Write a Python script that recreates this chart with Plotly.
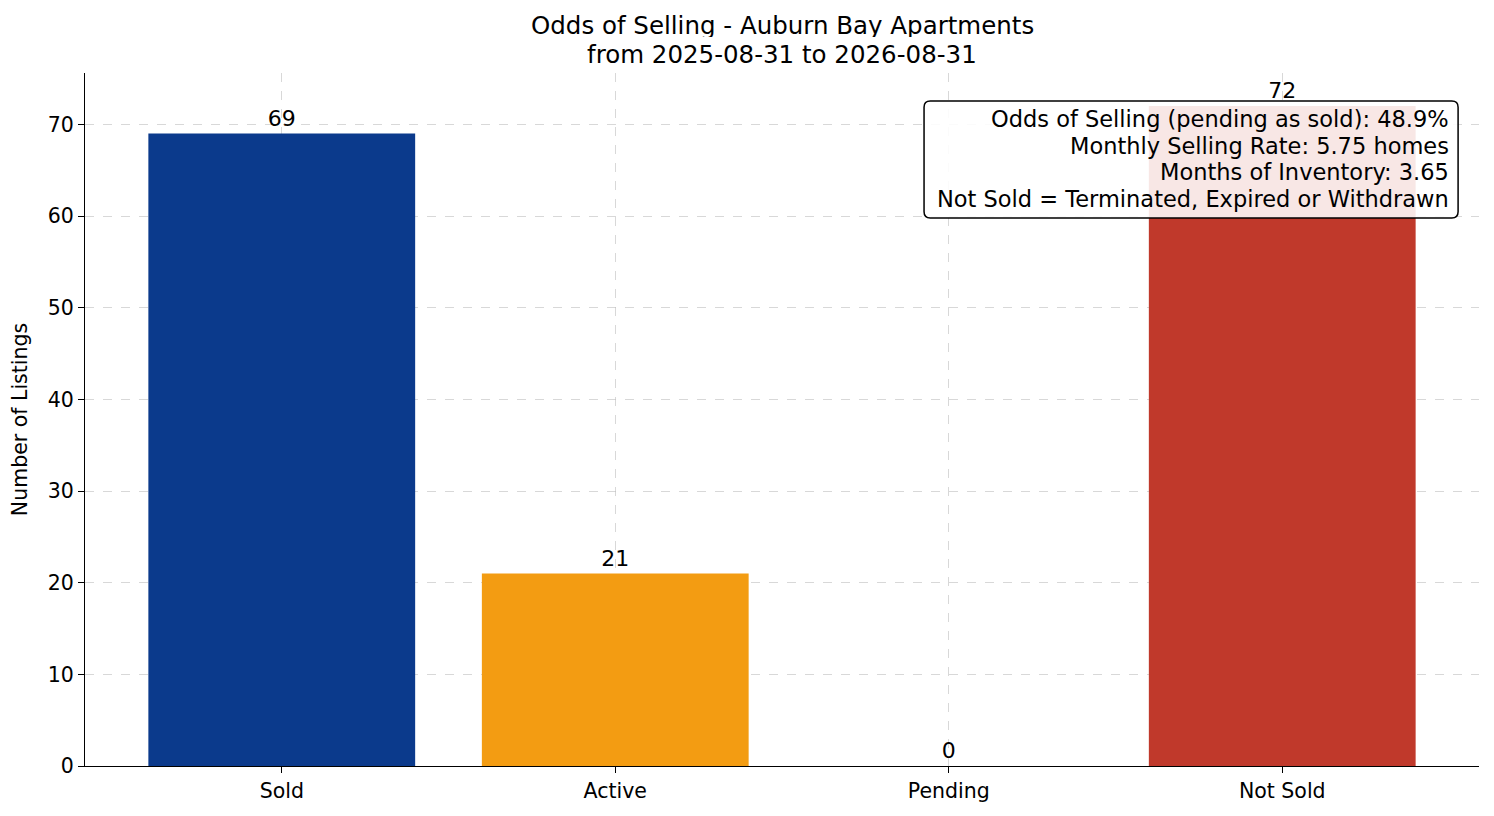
import plotly.graph_objects as go

categories = ["Sold", "Active", "Pending", "Not Sold"]
counts = [69, 21, 0, 72]
colors = ["#0b3a8c", "#f39c12", "#c0392b", "#c0392b"]

title_lines = ["Odds of Selling - Auburn Bay Apartments", "from 2025-08-31 to 2026-08-31"]

odds_pct = 48.9
monthly_rate = 5.75
months_inventory = 3.65

info_lines = [
    "Odds of Selling (pending as sold): %.1f%%" % odds_pct,
    "Monthly Selling Rate: %.2f homes" % monthly_rate,
    "Months of Inventory: %.2f" % months_inventory,
    "Not Sold = Terminated, Expired or Withdrawn",
]

fig = go.Figure(go.Bar(x=list(range(len(categories))), y=counts, width=0.8,
                       marker=dict(color=colors, line=dict(width=0)),
                       text=[str(c) for c in counts], textposition="outside",
                       textfont=dict(size=22, color="black"), cliponaxis=False))

# page has an 8px body margin, so the figure is a bit smaller than the window
fig.update_layout(
    width=1486, height=808,
    font=dict(family="DejaVu Sans", color="black"),
    plot_bgcolor="white", paper_bgcolor="white",
    margin=dict(l=77, r=15, t=65, b=50),
    showlegend=False,
)
grid = dict(showgrid=True, gridcolor="rgba(190,190,190,0.6)", griddash="dash", gridwidth=0.8)
fig.update_xaxes(range=[-0.59, 3.59], tickmode="array", tickvals=list(range(len(categories))),
                 ticktext=categories, showline=True, linecolor="black", linewidth=1.3,
                 ticks="outside", ticklen=6, tickcolor="black", tickfont=dict(size=20.5),
                 zeroline=False, layer="above traces", **grid)
fig.update_yaxes(range=[0, 75.6], tickvals=[0, 10, 20, 30, 40, 50, 60, 70],
                 showline=True, linecolor="black", linewidth=1.3,
                 ticks="outside", ticklen=6, tickcolor="black", tickfont=dict(size=20.5),
                 zeroline=False, layer="above traces",
                 title=dict(text="Number of Listings", font=dict(size=20.5), standoff=14), **grid)

# two-line title as annotations (tighter line spacing than plotly's title)
for txt, yy in zip(title_lines, [1.0693, 1.0274]):
    fig.add_annotation(xref="paper", yref="paper", x=0.5, y=yy, xanchor="center", yanchor="middle",
                       text=txt, showarrow=False, font=dict(size=24.5), height=24, borderpad=0)

# rounded info box (paper coords), drawn over the bars and the "72" label
x0, x1, y0, y1 = 0.6019, 0.985, 0.7908, 0.9596
rx, ry = 0.0045, 0.009
path = ("M %f,%f L %f,%f Q %f,%f %f,%f L %f,%f Q %f,%f %f,%f L %f,%f Q %f,%f %f,%f L %f,%f Q %f,%f %f,%f Z"
        % (x0 + rx, y0, x1 - rx, y0, x1, y0, x1, y0 + ry, x1, y1 - ry, x1, y1, x1 - rx, y1,
           x0 + rx, y1, x0, y1, x0, y1 - ry, x0, y0 + ry, x0, y0, x0 + rx, y0))
fig.add_shape(type="path", path=path, xref="paper", yref="paper", layer="above",
              fillcolor="rgba(255,255,255,0.88)", line=dict(color="black", width=1.5))

line_y = [0.9336, 0.8947, 0.8571, 0.8182]
for txt, yy in zip(info_lines, line_y):
    fig.add_annotation(xref="paper", yref="paper", x=0.980, y=yy, xanchor="right", yanchor="middle",
                       text=txt, showarrow=False, font=dict(size=22.5))

fig.write_html("out.html")
